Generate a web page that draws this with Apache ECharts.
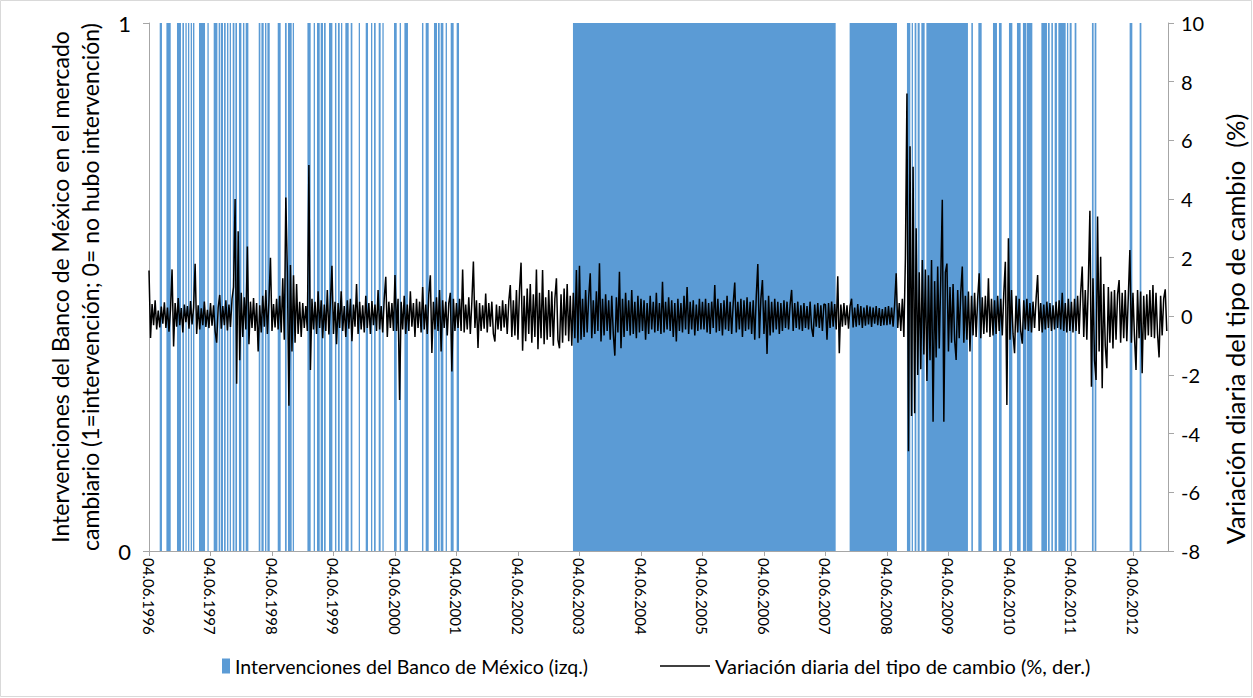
<!DOCTYPE html>
<html>
<head>
    <meta charset="utf-8">
    <title>Intervenciones Banxico</title>
    <script src="https://cdn.jsdelivr.net/npm/echarts@6.0.0/dist/echarts.min.js"></script>
    <style>
        body { margin: 0; background: #fff; }
        #grafica { width: 1253px; height: 698px; }
    </style>
</head>
<body>
<div id="grafica"></div>
<script>
    // etiquetas del eje x: 04.06 de cada año
    var diaMes = '04.06.';
    var etiquetasAnio = ['1996', '1997', '1998', '1999', '2000', '2001', '2002', '2003', '2004',
        '2005', '2006', '2007', '2008', '2009', '2010', '2011', '2012'];
    var finEje = 16.57; // años desde el 04.06.1996

    var nombreIntervencion = 'Intervenciones del Banco de México (izq.)';
    var nombreVariacion = 'Variación diaria del tipo de cambio (%, der.)';

    // periodos con intervención [inicio, fin], en años desde el 04.06.1996
    var intervenciones = [
        [0.174, 0.211], [0.283, 0.353], [0.455, 0.520], [0.543, 0.569], [0.592, 0.613],
        [0.634, 0.650], [0.678, 0.699], [0.715, 0.738], [0.813, 0.911], [0.950, 0.971],
        [1.052, 1.112], [1.133, 1.150], [1.166, 1.203], [1.220, 1.247], [1.268, 1.291],
        [1.312, 1.328], [1.361, 1.389], [1.405, 1.431], [1.463, 1.502], [1.528, 1.551],
        [1.572, 1.616], [1.784, 1.811], [1.828, 1.865], [1.886, 1.909], [1.925, 1.963],
        [2.093, 2.141], [2.211, 2.239], [2.260, 2.320], [2.337, 2.358], [2.576, 2.629],
        [2.678, 2.694], [2.732, 2.776], [2.792, 2.829], [2.846, 2.873], [2.927, 2.982],
        [3.024, 3.047], [3.073, 3.101], [3.122, 3.138], [3.193, 3.247], [3.280, 3.307],
        [3.410, 3.431], [3.524, 3.561], [3.610, 3.626], [3.659, 3.686], [3.735, 3.767],
        [3.795, 3.811], [3.984, 4.028], [4.076, 4.093], [4.153, 4.211], [4.439, 4.462],
        [4.499, 4.548], [4.634, 4.683], [4.699, 4.727], [4.743, 4.787], [4.824, 4.841],
        [4.906, 4.954], [5.003, 5.041],
        [6.894, 11.166], [11.393, 12.163],
        [12.325, 12.380], [12.402, 12.423], [12.450, 12.478], [12.499, 12.532], [12.559, 12.613],
        [12.641, 13.317], [13.372, 13.398], [13.486, 13.540], [13.724, 13.789], [13.821, 13.865],
        [13.984, 14.039], [14.114, 14.174], [14.211, 14.267], [14.276, 14.364], [14.511, 14.602],
        [14.618, 14.646], [14.673, 14.699], [14.727, 14.764], [14.787, 14.906], [14.927, 14.943],
        [14.971, 15.003], [15.052, 15.080], [15.333, 15.361], [15.377, 15.405], [15.946, 15.990],
        [16.109, 16.137]
    ];

    // variación diaria (%): 40 lecturas por año desde el 04.06.1996
    var pasoAnio = 1 / 40;
    var variacion = [
        // 1996-1997
        1.56, -0.74, 0.42, -0.3, 0.55, -0.45, 0.2, -0.38, 0.33, -0.25, 0.48, -0.4, 0.3, -0.52, 0.25, 1.6, -1.03, 0.45, -0.35, 0.62,
        -0.3, 0.28, -0.55, 0.4, -0.2, 0.35, -0.42, 0.52, -0.28, 0.3, 1.79, -0.6, 0.38, -0.45, 0.27, -0.3, 0.5, -0.36, 0.22, -0.4,
        // 1997-1998
        0.45, -0.32, 0.38, -0.5, -0.9, 0.3, 0.73, -0.42, 0.35, -0.3, 0.55, -0.48, 0.4, -0.36, 0.6, 1.0, 4.0, -2.3, 2.9, -1.5,
        0.8, -0.7, 0.65, -0.45, 2.38, -0.95, 0.5, -0.4, 0.62, -0.5, 0.45, -1.2, 0.38, -0.55, 0.7, -0.35, 0.9, -0.6, 0.5, 2.0,
        // 1998-1999
        -0.5, 0.42, -0.38, 0.6, -0.45, 0.7, -0.55, 1.3, -0.8, 4.05, 1.5, -3.05, 1.75, -1.2, 1.4, -0.9, 1.1, -0.6, 0.5, -0.7,
        0.45, -0.4, 0.35, -0.5, 5.16, -1.83, 0.6, -0.45, 0.5, -0.6, 0.85, -0.4, 0.55, -0.75, 0.4, -0.5, 0.9, -0.62, 0.48, 1.72,
        // 1999-2000
        -0.6, 0.5, -0.95, 0.45, -0.4, 0.85, -0.5, 0.35, -0.7, 0.55, -0.42, 0.6, -0.85, 0.4, -0.35, 1.1, -0.6, 0.5, -0.45, 0.38,
        -0.55, 0.7, -0.4, 0.45, -0.6, 0.52, -0.3, 0.4, -0.5, 0.9, -0.45, 0.35, -0.55, 0.6, 1.35, -0.7, 0.5, -0.4, 0.45, -0.5,
        // 2000-2001
        1.41, -0.5, 0.6, -2.85, 0.5, -0.45, 0.7, -0.6, 0.4, -0.5, 0.85, -0.35, 0.45, -0.7, 0.6, -0.4, 0.5, -0.55, 1.0, -0.45,
        0.4, -0.6, 0.75, 1.4, -1.25, 0.5, -0.45, 0.65, -0.5, 0.9, -1.2, 0.55, -0.4, 0.5, -0.65, 0.45, 0.8, -1.88, 0.6, -0.5,
        // 2001-2002
        0.45, -0.4, 0.6, -0.5, 1.6, -0.55, 0.4, -0.45, 0.65, -0.6, 0.5, 1.87, -0.4, 0.55, -1.08, 0.45, -0.5, 0.38, -0.42, 0.78,
        -0.55, 0.45, -0.35, 0.5, -0.6, -0.86, 0.4, -0.45, 0.35, -0.5, 0.55, -0.38, 0.42, -0.6, 0.5, 1.07, -0.7, 0.55, -0.65, 0.9,
        // 2002-2003
        -0.8, 0.9, 1.83, -1.17, 0.7, -0.85, 0.95, -0.6, 1.1, -0.9, 0.75, -0.7, 1.6, -1.12, 0.8, -0.75, 1.58, -0.95, 0.65, -0.8,
        0.9, -0.7, 0.85, -1.0, 0.6, 1.3, -0.8, -1.09, 0.75, -0.9, 0.95, -0.65, 1.1, -0.85, 0.7, -1.0, 0.8, -0.75, 1.58, -0.9,
        // 2003-2004
        1.72, -0.8, 0.6, -0.7, 0.9, -0.55, 0.65, 1.47, -0.75, 0.55, -0.6, 0.85, -0.5, 1.81, -0.86, 0.6, -0.65, 0.75, -0.5, 0.55,
        -0.8, 0.7, -0.6, -1.34, 0.65, -0.55, 1.52, -1.09, 0.6, -0.7, 0.8, -0.5, 0.55, -0.65, 0.9, -0.6, 0.5, -0.75, 0.7, -0.55,
        // 2004-2005
        0.6, -0.5, 0.55, -0.8, 0.45, -0.6, 0.7, -0.45, 0.5, -0.55, 0.8, -0.5, 0.45, -0.6, 1.18, -0.55, 0.5, -0.45, 0.65, -0.5,
        0.55, -0.7, 0.45, -0.86, 0.6, -0.5, 0.45, -0.55, 0.7, -0.45, 1.0, -0.6, 0.5, -0.45, 0.55, -0.65, 0.4, -0.5, 0.6, -0.45,
        // 2005-2006
        0.5, -0.45, 0.6, -0.55, 0.45, -0.6, 0.5, -0.4, 1.07, -0.55, 0.6, -0.5, 0.45, -0.65, 0.55, -0.45, 0.7, -0.5, 0.5, -0.6,
        0.45, 1.15, -0.55, 0.5, -0.45, 0.6, -0.7, 0.55, -0.5, 0.65, -0.45, 0.5, -0.6, 0.55, -0.8, 0.7, 1.78, -0.75, 0.6, 1.24,
        // 2006-2007
        -0.6, 0.55, -1.28, 0.7, -0.65, 0.5, -0.55, 0.6, -0.45, 0.5, -0.6, 0.45, -0.5, 0.55, -0.4, 0.5, -0.45, 0.4, 0.9, -0.5,
        0.45, -0.4, 0.5, -0.45, 0.38, -0.5, 0.45, -0.4, 0.35, -0.45, 0.5, -0.4, -0.7, 0.4, -0.35, 0.45, -0.4, 0.38, -0.5, 0.42,
        // 2007-2008
        0.4, -0.8, 0.45, -0.4, 0.5, -0.35, 0.42, -0.45, 1.37, -1.26, 0.4, -0.35, 0.45, -0.3, 0.38, -0.42, 0.35, 0.6, -0.38, 0.3,
        -0.35, 0.42, -0.3, 0.35, -0.4, 0.3, -0.32, 0.38, -0.28, 0.33, -0.36, 0.3, -0.25, 0.35, -0.3, 0.28, -0.33, 0.25, -0.3, 0.32,
        // 2008-2009
        -0.3, 0.35, -0.28, 0.3, -0.35, 0.4, 1.47, -0.4, 0.45, -0.5, 0.6, -0.7, 2.0, 7.6, -4.6, 5.8, -3.4, 5.1, -3.3, 3.0,
        -2.0, 1.5, -1.8, 1.92, -1.3, 1.6, -2.2, 1.4, -1.5, 1.92, -3.59, 1.2, -1.4, 1.7, -1.1, 1.3, 3.97, -3.59, 1.5, 1.8,
        // 2009-2010
        -1.2, 1.0, -0.9, 1.1, -0.8, -1.49, 0.9, -0.75, 0.8, 1.7, -0.9, 0.7, -0.8, 0.85, -1.2, 0.7, -0.65, 0.8, -0.7, 0.6,
        1.47, -0.75, 0.65, -0.6, 0.7, -0.55, 1.3, -0.7, 0.6, -0.65, 0.55, -0.6, 0.7, -0.5, 0.6, -0.65, 0.8, 1.86, -3.02, 2.66,
        // 2010-2011
        -0.8, 0.9, -0.6, -1.26, 0.7, -0.55, 0.6, -0.5, -0.93, 0.55, -0.45, 0.6, -0.5, 0.45, -0.55, 0.5, -0.4, 0.6, 1.41, -0.5,
        0.45, -0.55, 0.4, -0.45, 0.5, -0.4, 0.45, -0.5, 0.38, -0.45, 0.5, -0.4, 0.55, -0.45, 0.8, -0.5, 0.45, -0.55, 0.6, -0.5,
        // 2011-2012
        0.5, -0.55, 0.6, -0.5, 0.7, -0.6, 0.8, 1.7, -0.7, 0.9, -0.8, 1.2, 3.6, -2.4, 1.3, -1.5, -2.17, 3.4, -1.2, 2.03,
        -2.45, 1.1, -1.0, -1.77, 1.0, -0.9, 0.85, -1.1, 0.9, -0.8, 0.75, 1.24, -0.9, 0.8, -0.75, 0.9, -0.85, 0.7, 2.26, -0.9,
        // 2012
        0.8, -0.7, -1.83, 0.9, -0.75, 0.85, -1.94, 0.7, -0.8, 0.75, -0.65, 0.9, -0.7, 1.07, -0.75, 0.8, -0.6, -1.4, 0.7, -0.65,
        0.6, 0.92, -0.5
    ];

    var fuente = 'Lato, "Noto Sans", sans-serif';
    var gris = '#a6a6a6';
    var azul = '#5b9bd5';

    var puntos = [];
    for (var i = 0; i < variacion.length; i++) {
        puntos.push([i * pasoAnio, variacion[i]]);
    }

    var myChart = echarts.init(document.getElementById('grafica'), null, {renderer: 'svg'});
    var option = {
        animation: false,
        textStyle: {fontFamily: fuente, color: '#000'},
        graphic: [{
            type: 'rect', silent: true,
            shape: {x: 0.5, y: 0.5, width: 1251, height: 696},
            style: {fill: null, stroke: '#d9d9d9', lineWidth: 1}
        }],
        grid: {left: 149, right: 85, top: 23, bottom: 147, outerBoundsMode: 'none', containLabel: false},
        legend: [{
            data: [{name: nombreIntervencion, icon: 'rect'}],
            left: 222, top: 656, padding: 0,
            itemWidth: 8, itemHeight: 15, itemGap: 0,
            textStyle: {fontSize: 19.5, fontFamily: fuente, color: '#000'}
        }, {
            data: [{name: nombreVariacion, icon: 'rect'}],
            left: 660, top: 656, padding: 0,
            itemWidth: 50, itemHeight: 1.5, itemGap: 0,
            textStyle: {fontSize: 20, fontFamily: fuente, color: '#000'}
        }],
        xAxis: {
            type: 'value',
            min: 0,
            max: finEje,
            interval: 1,
            splitLine: {show: false},
            axisLine: {onZero: false, lineStyle: {color: gris}},
            axisTick: {length: 5, lineStyle: {color: gris}},
            axisLabel: {
                rotate: -90,
                margin: 7,
                fontSize: 15,
                fontFamily: fuente,
                color: '#000',
                showMaxLabel: false,
                formatter: function (v) {
                    var k = Math.round(v);
                    return etiquetasAnio[k] ? diaMes + etiquetasAnio[k] : '';
                }
            }
        },
        yAxis: [{
            type: 'value',
            position: 'left',
            min: 0,
            max: 1,
            interval: 1,
            alignTicks: false,
            name: 'Intervenciones del Banco de México en el mercado\ncambiario (1=intervención; 0= no hubo intervención)',
            nameLocation: 'middle',
            nameRotate: 90,
            nameGap: 44,
            nameTextStyle: {fontSize: 23, lineHeight: 30, fontFamily: fuente, color: '#000'},
            splitLine: {show: false},
            axisLine: {show: true, lineStyle: {color: gris}},
            axisTick: {show: true, length: 6, lineStyle: {color: gris}},
            axisLabel: {fontSize: 22, margin: 18, fontFamily: fuente, color: '#000'}
        }, {
            type: 'value',
            position: 'right',
            min: -8,
            max: 10,
            interval: 2,
            alignTicks: false,
            name: 'Variación diaria del tipo de cambio  (%)',
            nameLocation: 'middle',
            nameRotate: 90,
            nameGap: 54,
            nameTextStyle: {fontSize: 25.5, fontFamily: fuente, color: '#000', padding: [0, 84, 0, 0]},
            splitLine: {show: false},
            axisLine: {show: true, lineStyle: {color: gris}},
            axisTick: {show: true, length: 6, lineStyle: {color: gris}},
            axisLabel: {fontSize: 20, margin: 13, fontFamily: fuente, color: '#000'}
        }],
        series: [{
            name: nombreIntervencion,
            type: 'custom',
            xAxisIndex: 0,
            yAxisIndex: 0,
            clip: true,
            z: 1,
            itemStyle: {color: azul},
            encode: {x: [0, 1]},
            data: intervenciones,
            renderItem: function (params, api) {
                var arriba = api.coord([api.value(0), 1]);
                var abajo = api.coord([api.value(1), 0]);
                var ancho = Math.max(abajo[0] - arriba[0], 1.3);
                return {
                    type: 'rect',
                    shape: {x: arriba[0], y: arriba[1], width: ancho, height: abajo[1] - arriba[1]},
                    style: {fill: azul}
                };
            }
        }, {
            name: nombreVariacion,
            type: 'line',
            xAxisIndex: 0,
            yAxisIndex: 1,
            data: puntos,
            showSymbol: false,
            symbol: 'none',
            z: 3,
            itemStyle: {color: '#000'},
            lineStyle: {color: '#000', width: 1.5}
        }]
    };
    myChart.setOption(option);
</script>
</body>
</html>
